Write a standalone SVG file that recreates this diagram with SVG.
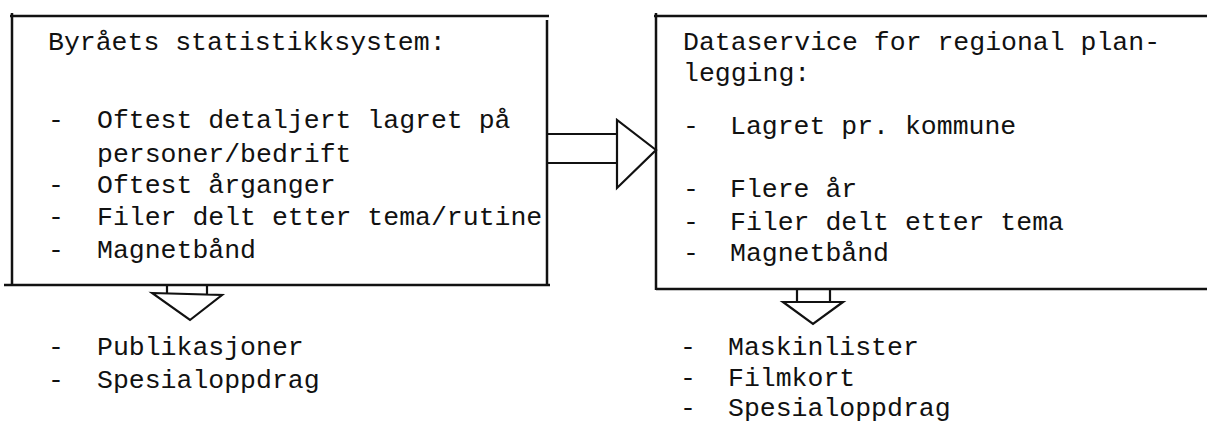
<svg xmlns="http://www.w3.org/2000/svg" width="1207" height="425" viewBox="0 0 1207 425">
<style>
text{font-family:"Liberation Mono","DejaVu Sans Mono",monospace;font-size:26.5px;fill:#111}
.box{fill:none;stroke:#111;stroke-width:2.5}
.arr{fill:none;stroke:#111;stroke-width:2.2;stroke-linejoin:miter}
</style>
<rect width="1207" height="425" fill="#fff"/>
<g id="node-byraa">
<path class="box" d="M10 16H549M12 13V286M547 20V286M4 285H550"/>
<text x="48" y="50">Byråets statistikksystem:</text>
<text x="48" y="128">-</text><text x="97" y="128">Oftest detaljert lagret på</text>
<text x="97" y="162">personer/bedrift</text>
<text x="48" y="193">-</text><text x="97" y="193">Oftest årganger</text>
<text x="48" y="225">-</text><text x="97" y="225">Filer delt etter tema/rutine</text>
<text x="48" y="258">-</text><text x="97" y="258">Magnetbånd</text>
</g>
<g id="node-dataservice">
<path class="box" d="M656 13V290M654 16H1207M656 289H1207"/>
<text x="683" y="50">Dataservice for regional plan-</text>
<text x="683" y="81">legging:</text>
<text x="683" y="134">-</text><text x="730" y="134">Lagret pr. kommune</text>
<text x="683" y="197">-</text><text x="730" y="197">Flere år</text>
<text x="683" y="230">-</text><text x="730" y="230">Filer delt etter tema</text>
<text x="683" y="261">-</text><text x="730" y="261">Magnetbånd</text>
</g>
<g id="node-output-left">
<text x="48" y="355">-</text><text x="97" y="355">Publikasjoner</text>
<text x="48" y="388">-</text><text x="97" y="388">Spesialoppdrag</text>
</g>
<g id="node-output-right">
<text x="680" y="355">-</text><text x="728" y="355">Maskinlister</text>
<text x="680" y="386">-</text><text x="728" y="386">Filmkort</text>
<text x="680" y="416">-</text><text x="728" y="416">Spesialoppdrag</text>
</g>
<g id="connectors">
<path class="arr" d="M548 134H617M548 163H617M617 120V188L656 150Z"/>
<path class="arr" d="M167 285V294M207 285V294M152 293L222 295L190 320Z"/>
<path class="arr" d="M797 289V302M830 289V302M783 302H843L813 324Z"/>
</g>
</svg>
